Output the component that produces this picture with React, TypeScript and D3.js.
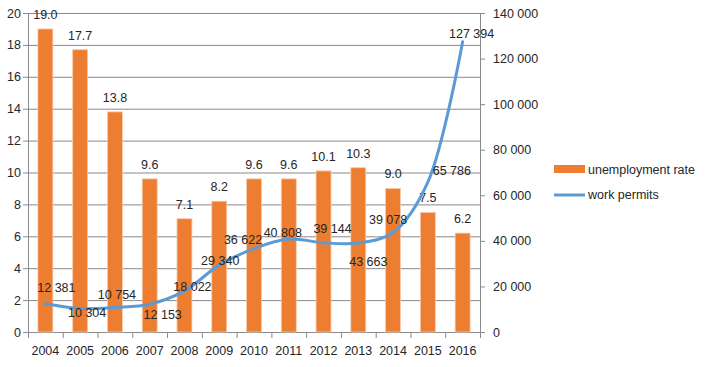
import React, { useEffect, useRef } from 'react';
import * as d3 from 'd3';

const years = ['2004', '2005', '2006', '2007', '2008', '2009', '2010', '2011', '2012', '2013', '2014', '2015', '2016'];
const unemploymentRate = [19.0, 17.7, 13.8, 9.6, 7.1, 8.2, 9.6, 9.6, 10.1, 10.3, 9.0, 7.5, 6.2];
const workPermits = [12381, 10304, 10754, 12153, 18022, 29340, 36622, 40808, 39144, 39078, 43663, 65786, 127394];
// label texts as they appear on the chart
const permitLabels = ['12 381', '10 304', '10 754', '12 153', '18 022', '29 340', '36 622', '40 808', '39 144', '43 663', '39 078', '65 786', '127 394'];
const leftTicks = [0, 2, 4, 6, 8, 10, 12, 14, 16, 18, 20];
const rightTicks = [0, 20000, 40000, 60000, 80000, 100000, 120000, 140000];

// hand-placed label offsets (dx, dy to text center)
const labelOffsets: [number, number][] = [
  [11, -16], [7, 4], [2, -13], [13, 10], [8, -4], [1, -5], [-11, -9],
  [-6, -7], [9, -14], [10, 19], [-5, -13], [24, -12], [9, -8],
];

const fmt = (v: number) => d3.format(',')(v).replace(/,/g, ' ');

const App: React.FC = () => {
  const ref = useRef<SVGSVGElement | null>(null);

  useEffect(() => {
    if (!ref.current) return;
    const svg = d3.select(ref.current);
    svg.selectAll('*').remove();

    const left = 28, right = 480, top = 13, bottom = 332;
    const font = '"Liberation Sans", Arial, sans-serif';
    const textColor = '#262626';
    const gridColor = '#898989';

    const x = d3.scaleBand().domain(years).range([left, right]).paddingInner(0.57).paddingOuter(0.285);
    const xb = d3.scaleBand().domain(years).range([left, right]);
    const y = d3.scaleLinear().domain([0, 20]).range([bottom, top]);
    const y2 = d3.scaleLinear().domain([0, 140000]).range([bottom, top]);

    // gridlines
    svg.append('g').selectAll('line').data(leftTicks).enter().append('line')
      .attr('x1', left).attr('x2', right)
      .attr('y1', d => y(d) + 0.5).attr('y2', d => y(d) + 0.5)
      .attr('stroke', gridColor).attr('stroke-width', 1);

    // left axis
    const gl = svg.append('g');
    gl.append('line').attr('x1', left + 0.5).attr('x2', left + 0.5).attr('y1', top).attr('y2', bottom + 0.5)
      .attr('stroke', gridColor);
    gl.selectAll('.tk').data(leftTicks).enter().append('line')
      .attr('x1', left - 5).attr('x2', left).attr('y1', d => y(d) + 0.5).attr('y2', d => y(d) + 0.5)
      .attr('stroke', gridColor);
    gl.selectAll('text').data(leftTicks).enter().append('text')
      .attr('x', 21).attr('y', d => y(d) + 4.5)
      .attr('text-anchor', 'end').attr('font-family', font).attr('font-size', 12.5).attr('fill', textColor)
      .text(d => d);

    // right axis
    const gr = svg.append('g');
    gr.append('line').attr('x1', right + 0.5).attr('x2', right + 0.5).attr('y1', top).attr('y2', bottom + 0.5)
      .attr('stroke', gridColor);
    gr.selectAll('.tk').data(rightTicks).enter().append('line')
      .attr('x1', right).attr('x2', right + 5).attr('y1', d => y2(d) + 0.5).attr('y2', d => y2(d) + 0.5)
      .attr('stroke', gridColor);
    gr.selectAll('text').data(rightTicks).enter().append('text')
      .attr('x', 493).attr('y', d => y2(d) + 4.5)
      .attr('font-family', font).attr('font-size', 12.5).attr('fill', textColor)
      .text(d => fmt(d));

    // bottom axis
    const gb = svg.append('g');
    gb.append('line').attr('x1', left).attr('x2', right + 1).attr('y1', bottom + 0.5).attr('y2', bottom + 0.5)
      .attr('stroke', gridColor);
    const bounds = years.map(d => xb(d)!).concat([right]);
    gb.selectAll('.tk').data(bounds).enter().append('line')
      .attr('x1', d => d + 0.5).attr('x2', d => d + 0.5).attr('y1', bottom).attr('y2', bottom + 6)
      .attr('stroke', gridColor);
    gb.selectAll('text').data(years).enter().append('text')
      .attr('x', d => xb(d)! + xb.bandwidth() / 2).attr('y', 355)
      .attr('text-anchor', 'middle').attr('font-family', font).attr('font-size', 12.5).attr('fill', textColor)
      .text(d => d);

    // bars
    svg.append('g').selectAll('rect').data(unemploymentRate).enter().append('rect')
      .attr('x', (_, i) => x(years[i])!)
      .attr('y', d => y(d))
      .attr('width', x.bandwidth())
      .attr('height', d => bottom - y(d))
      .attr('fill', '#ED7D31')
      .attr('stroke', '#F8CBAD').attr('stroke-width', 0.8);

    svg.append('g').selectAll('text').data(unemploymentRate).enter().append('text')
      .attr('x', (_, i) => x(years[i])! + x.bandwidth() / 2)
      .attr('y', d => y(d) - 10)
      .attr('text-anchor', 'middle').attr('font-family', font).attr('font-size', 12.5).attr('fill', textColor)
      .text(d => d.toFixed(1));

    // line
    const line = d3.line<number>()
      .x((_, i) => xb(years[i])! + xb.bandwidth() / 2)
      .y(d => y2(d))
      .curve(d3.curveCatmullRom.alpha(0.5));
    svg.append('path').datum(workPermits)
      .attr('d', line)
      .attr('fill', 'none').attr('stroke', '#5B9BD5').attr('stroke-width', 3).attr('stroke-linecap', 'round');

    svg.append('g').selectAll('text').data(workPermits).enter().append('text')
      .attr('x', (_, i) => xb(years[i])! + xb.bandwidth() / 2 + labelOffsets[i][0])
      .attr('y', (d, i) => y2(d) + labelOffsets[i][1] + 4.5)
      .attr('text-anchor', 'middle').attr('font-family', font).attr('font-size', 12.5).attr('fill', textColor)
      .text((_, i) => permitLabels[i]);

    // legend
    const lg = svg.append('g');
    lg.append('rect').attr('x', 554).attr('y', 165).attr('width', 31).attr('height', 8).attr('fill', '#ED7D31');
    lg.append('text').attr('x', 588).attr('y', 174).attr('font-family', font).attr('font-size', 12.5).attr('fill', textColor)
      .text('unemployment rate');
    lg.append('line').attr('x1', 554).attr('x2', 585).attr('y1', 195).attr('y2', 195)
      .attr('stroke', '#5B9BD5').attr('stroke-width', 3);
    lg.append('text').attr('x', 588).attr('y', 199).attr('font-family', font).attr('font-size', 12.5).attr('fill', textColor)
      .text('work permits');
  }, []);

  return (
    <svg ref={ref} width={707} height={367} style={{ position: 'absolute', left: 0, top: 0, background: '#fff' }} />
  );
};

export default App;
